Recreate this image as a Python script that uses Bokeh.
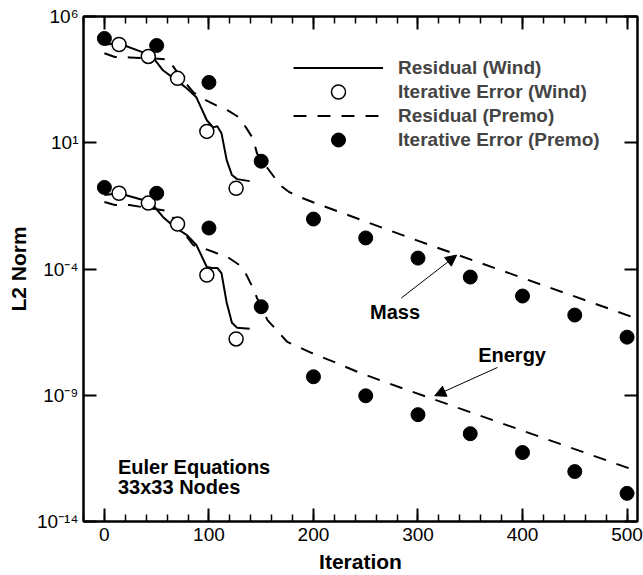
from bokeh.plotting import figure
from bokeh.models import (Range1d, LinearAxis, LogAxis, FixedTicker, SingleIntervalTicker,
                          Legend, LegendItem, Label, Arrow, NormalHead, CustomLabelingPolicy)
from bokeh.embed import file_html
from bokeh.resources import INLINE

FONT = "Liberation Sans"

# ---------------- data ----------------
# Iterative error (Premo), filled circles
premo_iter = [0, 50, 100, 150, 200, 250, 300, 350, 400, 450, 500]
premo_err_mass = [1.35e5, 7.1e4, 2.45e3, 1.86, 9.5e-3, 1.7e-3, 2.7e-4, 4.8e-5, 8.5e-6, 1.5e-6, 2.0e-7]
premo_err_energy = [0.17, 0.10, 4.2e-3, 3.2e-6, 5.4e-9, 9.5e-10, 1.7e-10, 3.0e-11, 5.4e-12, 9.5e-13, 1.3e-13]

# Iterative error (Wind), open circles
wind_iter = [14, 42, 70, 98, 126]
wind_err_mass = [7.76e4, 2.63e4, 3.55e3, 28.2, 0.158]
wind_err_energy = [0.10, 0.0407, 6.03e-3, 5.75e-5, 1.70e-7]

# Residual (Wind), solid lines
wind_res_iter_mass = [0, 14, 37, 45, 56, 69, 79, 88, 98, 104, 108, 112, 117, 122, 127, 139]
wind_res_mass = [7.76e4, 8.5e4, 3.8e4, 2.9e4, 7.4e3, 2.95e3, 1.41e3, 631, 77.6, 40.7, 44.7,
                 24.0, 2.04, 0.525, 0.363, 0.302]
wind_res_iter_energy = [0, 14, 37, 45, 56, 67, 79, 88, 98, 103, 108, 112, 117, 122, 127, 139]
wind_res_energy = [0.085, 0.1, 0.054, 0.041, 0.0115, 4.6e-3, 2.2e-3, 8.9e-4, 1.2e-4, 1.1e-4,
                   1.1e-4, 6.9e-5, 4.6e-6, 7.4e-7, 4.7e-7, 4.3e-7]

# Residual (Premo), dashed lines
premo_res_iter_mass = [0, 10, 24, 45, 61, 73, 85, 94, 107, 118, 129, 136, 142, 146, 150, 156,
                       168, 177, 187, 199, 295, 505]
premo_res_mass = [3.5e4, 2.5e4, 2.4e4, 2.2e4, 2.0e4, 4.0e3, 1.0e3, 562, 302, 191, 100, 37, 15,
                  3.8, 2.0, 1.0, 0.21, 0.11, 0.071, 0.045, 1.55e-3, 1.26e-6]
premo_res_iter_energy = [0, 10, 24, 61, 73, 85, 94, 107, 118, 129, 136, 142, 146, 150, 156, 175,
                         198, 222, 244, 268, 292, 314, 505]
premo_res_energy = [0.045, 0.034, 0.034, 0.0195, 4.0e-3, 8.9e-4, 6.8e-4, 4.3e-4, 2.95e-4,
                    1.45e-4, 5.75e-5, 1.78e-5, 7.1e-6, 3.2e-6, 9.5e-7, 1.29e-7, 4.8e-8, 1.9e-8,
                    7.8e-9, 3.4e-9, 1.5e-9, 7.2e-10, 1.15e-12]

y_ticks = [1e-14, 1e-9, 1e-4, 1e1, 1e6]
y_tick_labels = ["10\u207b\u00b9\u2074", "10\u207b\u2079", "10\u207b\u2074", "10\u00b9", "10\u2076"]

legend_labels = ["Residual (Wind)", "Iterative Error (Wind)", "Residual (Premo)",
                 "Iterative Error (Premo)"]

# annotations: (text, x, y)
mass_label = ("Mass", 278, 10 ** -5.72)
mass_arrow = (284, 10 ** -5.15, 337, 10 ** -3.45)
energy_label = ("Energy", 390, 10 ** -7.41)
energy_arrow = (376, 10 ** -7.9, 316, 10 ** -9.02)
note_lines = [("Euler Equations", 13, 10 ** -11.86), ("33x33 Nodes", 13, 10 ** -12.65)]

# ---------------- figure ----------------
p = figure(width=643, height=575, output_backend="svg", toolbar_location=None,
           y_axis_type="log", x_range=Range1d(-20, 510), y_range=Range1d(1e-14, 1e6),
           min_border_left=83, min_border_right=6, min_border_top=16, min_border_bottom=54,
           background_fill_color="white", border_fill_color="white")
p.grid.visible = False
p.outline_line_color = "black"
p.outline_line_width = 2

DASH = "13 11"
LW = 2

r_wind_res = p.line(wind_res_iter_mass, wind_res_mass, line_color="black", line_width=LW)
p.line(wind_res_iter_energy, wind_res_energy, line_color="black", line_width=LW)
r_premo_res = p.line(premo_res_iter_mass, premo_res_mass, line_color="black", line_width=LW,
                     line_dash=DASH)
p.line(premo_res_iter_energy, premo_res_energy, line_color="black", line_width=LW, line_dash=DASH)

r_wind_err = p.scatter(wind_iter, wind_err_mass, size=14, fill_color="white",
                       line_color="black", line_width=1.5)
p.scatter(wind_iter, wind_err_energy, size=14, fill_color="white", line_color="black",
          line_width=1.5)
r_premo_err = p.scatter(premo_iter, premo_err_mass, size=14, fill_color="black",
                        line_color="black")
p.scatter(premo_iter, premo_err_energy, size=14, fill_color="black", line_color="black")

# ---------------- axes ----------------
NO_LABELS = CustomLabelingPolicy(code="""
for (const i of Array.from(indices)) { indices.unset(i) }
return indices
""")

def style_axis(ax, labels=True):
    ax.axis_line_width = 2
    ax.axis_line_color = "black"
    ax.major_tick_in = 13
    ax.major_tick_out = 0
    ax.minor_tick_in = 7
    ax.minor_tick_out = 0
    ax.major_tick_line_width = 2
    ax.minor_tick_line_width = 1.5
    ax.major_label_text_font = FONT
    ax.major_label_text_color = "black"
    if labels:
        ax.major_label_text_font_size = "19px"
    else:
        ax.major_label_text_font_size = "2px"
        ax.major_label_text_alpha = 0
        ax.major_label_standoff = 0
        ax.major_label_policy = NO_LABELS

xb = p.xaxis[0]
xb.ticker = SingleIntervalTicker(interval=100, num_minor_ticks=5)
style_axis(xb)
xb.major_label_standoff = 6
xb.axis_label = "Iteration"
xb.axis_label_text_font = FONT
xb.axis_label_text_font_style = "bold"
xb.axis_label_text_font_size = "21px"
xb.axis_label_standoff = 6
xb.axis_label_text_color = "black"

yl = p.yaxis[0]
yl.ticker = FixedTicker(ticks=y_ticks, minor_ticks=[])
style_axis(yl)
yl.major_label_standoff = 5
yl.major_label_overrides = {t: s for t, s in zip(y_ticks, y_tick_labels)}
yl.axis_label = "L2 Norm"
yl.axis_label_text_font = FONT
yl.axis_label_text_font_style = "bold"
yl.axis_label_text_font_size = "21px"
yl.axis_label_standoff = 4
yl.axis_label_text_color = "black"

xt = LinearAxis(ticker=SingleIntervalTicker(interval=100, num_minor_ticks=5))
style_axis(xt, labels=False)
p.add_layout(xt, "above")

yr = LogAxis(ticker=FixedTicker(ticks=y_ticks, minor_ticks=[]))
style_axis(yr, labels=False)
p.add_layout(yr, "right")

# ---------------- legend (two interleaved blocks so the markers keep full size) ----------------
def make_legend(items, loc):
    return Legend(items=items, location=loc, glyph_width=90, glyph_height=35,
                  label_height=22, spacing=13, padding=0, margin=0, label_standoff=15,
                  label_text_font=FONT, label_text_font_style="bold",
                  label_text_font_size="19px", border_line_alpha=0,
                  background_fill_alpha=0)

legend_lines = make_legend([
    LegendItem(label=legend_labels[0], renderers=[r_wind_res]),
    LegendItem(label=legend_labels[2], renderers=[r_premo_res]),
], (210, 388))
legend_marks = make_legend([
    LegendItem(label=legend_labels[1], renderers=[r_wind_err]),
    LegendItem(label=legend_labels[3], renderers=[r_premo_err]),
], (210, 364))
p.add_layout(legend_lines)
p.add_layout(legend_marks)

# ---------------- annotations ----------------
def add_text(txt, x, y, align):
    p.add_layout(Label(x=x, y=y, text=txt, text_align=align, text_baseline="middle",
                       text_font=FONT, text_font_style="bold", text_font_size="20px",
                       text_color="black"))

add_text(mass_label[0], mass_label[1], mass_label[2], "center")
add_text(energy_label[0], energy_label[1], energy_label[2], "center")
for t, x, y in note_lines:
    add_text(t, x, y, "left")

for xs, ys, xe, ye in (mass_arrow, energy_arrow):
    p.add_layout(Arrow(end=NormalHead(size=11, fill_color="black", line_color="black",
                                      line_width=1),
                       x_start=xs, y_start=ys, x_end=xe, y_end=ye,
                       line_color="black", line_width=1))

open("out.html", "w").write(file_html(p, INLINE))
